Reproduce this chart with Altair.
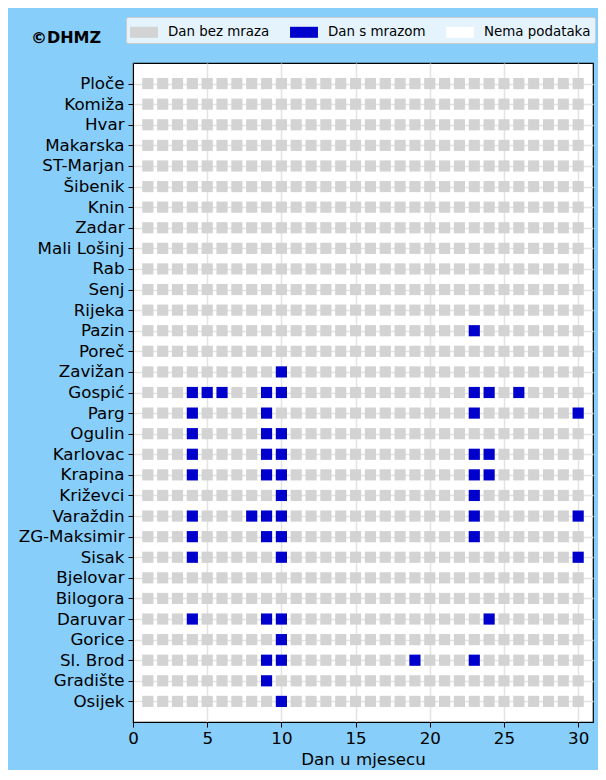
import altair as alt
import pandas as pd

stations = ["Ploče", "Komiža", "Hvar", "Makarska", "ST-Marjan", "Šibenik", "Knin", "Zadar",
            "Mali Lošinj", "Rab", "Senj", "Rijeka", "Pazin", "Poreč", "Zavižan", "Gospić",
            "Parg", "Ogulin", "Karlovac", "Krapina", "Križevci", "Varaždin", "ZG-Maksimir",
            "Sisak", "Bjelovar", "Bilogora", "Daruvar", "Gorice", "Sl. Brod", "Gradište", "Osijek"]

frost_days = {
    "Pazin": [23],
    "Zavižan": [10],
    "Gospić": [4, 5, 6, 9, 10, 23, 24, 26],
    "Parg": [4, 9, 23, 30],
    "Ogulin": [4, 9, 10],
    "Karlovac": [4, 9, 10, 23, 24],
    "Krapina": [4, 9, 10, 23, 24],
    "Križevci": [10, 23],
    "Varaždin": [4, 8, 9, 10, 23, 30],
    "ZG-Maksimir": [4, 9, 10, 23],
    "Sisak": [4, 10, 30],
    "Daruvar": [4, 9, 10, 24],
    "Gorice": [10],
    "Sl. Brod": [9, 10, 19, 23],
    "Gradište": [9],
    "Osijek": [10],
}

days = list(range(1, 31))
categories = ["Dan bez mraza", "Dan s mrazom", "Nema podataka"]
colors = ["#d3d3d3", "#0000cc", "#ffffff"]
x_ticks = [0, 5, 10, 15, 20, 25, 30]

rows = []
for s in stations:
    for d in days:
        rows.append({"station": s, "day": d,
                     "status": categories[1] if d in frost_days.get(s, []) else categories[0]})
df = pd.DataFrame(rows)

FONT = "DejaVu Sans"
FS = 16.7

squares = alt.Chart(df).mark_square(size=125, opacity=1, strokeWidth=0).encode(
    x=alt.X("day:Q", scale=alt.Scale(domain=[0, 31], nice=False, zero=False),
            axis=alt.Axis(values=x_ticks, title="Dan u mjesecu", grid=True,
                          gridColor="#e3e3e3", gridWidth=1.5, labelFontSize=FS,
                          titleFontSize=FS, titleFontWeight="normal", labelColor="black",
                          titleColor="black", tickColor="black", domainColor="black",
                          tickSize=5, labelPadding=3, titlePadding=5, labelFont=FONT,
                          titleFont=FONT, labelFlush=False)),
    y=alt.Y("station:N", sort=stations, scale=alt.Scale(type="point", padding=1),
            axis=alt.Axis(title=None, grid=True, gridColor="#e3e3e3", gridWidth=1.5,
                          labelFontSize=FS, labelColor="black", tickColor="black",
                          domainColor="black", tickSize=5, labelPadding=4, labelFont=FONT)),
    color=alt.Color("status:N", scale=alt.Scale(domain=categories, range=colors),
                    legend=alt.Legend(orient="none", legendX=-7, legendY=-46,
                                      direction="horizontal", title=None,
                                      fillColor="#e4f3fc", strokeColor="#cccccc",
                                      padding=4, cornerRadius=2, symbolOffset=3,
                                      symbolType="M-1.27,-0.5H1.27V0.5H-1.27Z",
                                      symbolSize=484, symbolStrokeWidth=0,
                                      symbolOpacity=1, labelFontSize=13.4, labelFont=FONT,
                                      labelColor="black", labelOffset=13,
                                      columnPadding=20)),
)

label = alt.Chart(pd.DataFrame({"t": ["©DHMZ"]})).mark_text(
    font=FONT, fontSize=16, fontWeight="bold", color="black", align="center",
    baseline="middle").encode(x=alt.value(-67), y=alt.value(-25), text="t:N")

chart = alt.layer(squares, label).properties(
    width=460, height=659,
    autosize=alt.AutoSizeParams(type="none"),
    padding={"left": 125, "top": 55, "right": 5, "bottom": 48},
    background="#87cefa",
).configure_view(fill="white", stroke="black", strokeWidth=1.2)

chart.save("out.html", embed_options={"renderer": "svg", "actions": False})
